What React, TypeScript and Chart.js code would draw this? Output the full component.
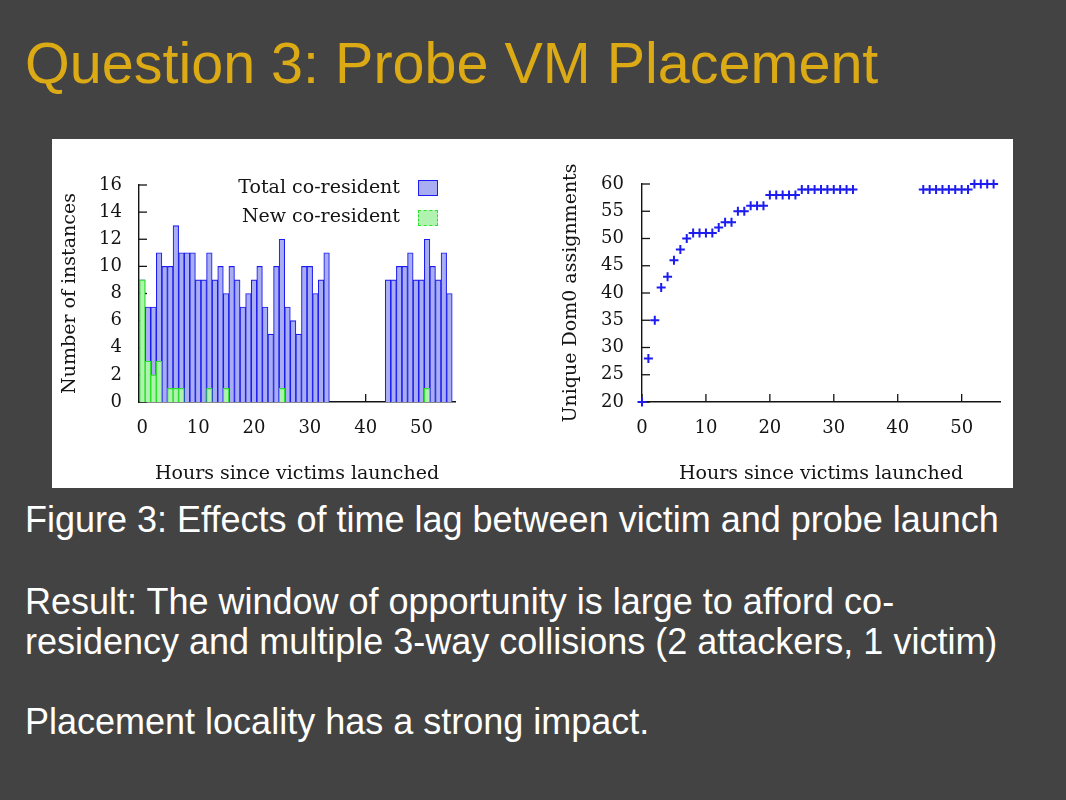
import React, { useEffect, useRef } from "react";
import { Chart, registerables } from "chart.js";

Chart.register(...registerables);

// ---------- data ----------
const coHours = [
  0, 1, 2, 3, 4, 5, 6, 7, 8, 9, 10, 11, 12, 13, 14, 15, 16, 17, 18, 19, 20, 21, 22, 23, 24, 25, 26, 27, 28, 29, 30, 31, 32, 33,
  44, 45, 46, 47, 48, 49, 50, 51, 52, 53, 54, 55,
];
const totalCoResident = [
  9, 7, 7, 11, 10, 10, 13, 11, 11, 11, 9, 9, 11, 9, 10, 8, 10, 9, 7, 8, 9, 10, 7, 5, 10, 12, 7, 6, 5, 10, 10, 8, 9, 11,
  9, 9, 10, 10, 11, 9, 9, 12, 10, 9, 11, 8,
];
const newHours = [0, 1, 2, 3, 5, 6, 7, 12, 15, 25, 51];
const newCoResident = [9, 3, 2, 3, 1, 1, 1, 1, 1, 1, 1];

const dom0Hours = [
  0, 1, 2, 3, 4, 5, 6, 7, 8, 9, 10, 11, 12, 13, 14, 15, 16, 17, 18, 19, 20, 21, 22, 23, 24, 25, 26, 27, 28, 29, 30, 31, 32, 33,
  44, 45, 46, 47, 48, 49, 50, 51, 52, 53, 54, 55,
];
const dom0Unique = [
  20, 28, 35, 41, 43, 46, 48, 50, 51, 51, 51, 51, 52, 53, 53, 55, 55, 56, 56, 56, 58, 58, 58, 58, 58, 59, 59, 59, 59, 59, 59, 59, 59, 59,
  59, 59, 59, 59, 59, 59, 59, 59, 60, 60, 60, 60,
];

const xTickValues = [0, 10, 20, 30, 40, 50];
const leftYTickValues = [0, 2, 4, 6, 8, 10, 12, 14, 16];
const rightYTickValues = [20, 25, 30, 35, 40, 45, 50, 55, 60];

const legendLabels = ["Total co-resident", "New co-resident"];
const xTitle = "Hours since victims launched";
const leftYTitle = "Number of instances";
const rightYTitle = "Unique Dom0 assignments";

// ---------- styles ----------
const BG = "#434343";
const GOLD = "#dcaa14";
const INK = "#141414";
const BLUE = "#1c1cf0";
const BLUE_FILL = "#a9aef2";
const GREEN = "#2de02d";
const GREEN_FILL = "#b0f2b0";
const SERIF = "'DejaVu Serif', serif";
const SANS = "'Liberation Sans', Arial, sans-serif";

const inwardTicks = {
  id: "inwardTicks",
  beforeDatasetsDraw(chart: any) {
    const { ctx, chartArea, scales } = chart;
    ctx.save();
    ctx.strokeStyle = INK;
    ctx.lineWidth = 1.3;
    const xs = scales.x;
    const ys = scales.y;
    ys.ticks.forEach((t: any) => {
      const py = ys.getPixelForValue(t.value);
      ctx.beginPath();
      ctx.moveTo(chartArea.left, py);
      ctx.lineTo(chartArea.left + 8, py);
      ctx.stroke();
    });
    xs.ticks.forEach((t: any) => {
      const px = xs.getPixelForValue(t.value);
      ctx.beginPath();
      ctx.moveTo(px, chartArea.bottom);
      ctx.lineTo(px, chartArea.bottom - 8);
      ctx.stroke();
    });
    ctx.restore();
  },
};

function axisCommon(tickValues: number[], min: number, max: number) {
  return {
    type: "linear" as const,
    min,
    max,
    afterBuildTicks: (s: any) => {
      s.ticks = tickValues.map((v) => ({ value: v }));
    },
    grid: { display: false, drawTicks: false },
    border: { display: true, color: INK, width: 1.4 },
  };
}

export default function App() {
  const leftRef = useRef<HTMLCanvasElement>(null);
  const rightRef = useRef<HTMLCanvasElement>(null);

  useEffect(() => {
    Chart.defaults.font.family = SERIF;
    Chart.defaults.color = INK;

    const left = new Chart(leftRef.current!, {
      type: "bar",
      data: {
        datasets: [
          {
            label: legendLabels[0],
            data: coHours.map((h, i) => ({ x: h, y: totalCoResident[i] })),
            backgroundColor: BLUE_FILL,
            borderColor: BLUE,
            borderWidth: 1.1,
            barPercentage: 1,
            categoryPercentage: 1,
            grouped: false,
            order: 2,
          } as any,
          {
            label: legendLabels[1],
            data: newHours.map((h, i) => ({ x: h, y: newCoResident[i] })),
            backgroundColor: GREEN_FILL,
            borderColor: GREEN,
            borderWidth: 1.1,
            barPercentage: 1,
            categoryPercentage: 1,
            grouped: false,
            order: 1,
          } as any,
        ],
      },
      options: {
        animation: false,
        responsive: true,
        maintainAspectRatio: false,
        events: [],
        layout: { padding: { top: 46, right: 45, left: 0, bottom: 0 } },
        plugins: { legend: { display: false }, tooltip: { enabled: false } },
        scales: {
          x: {
            ...axisCommon(xTickValues, -0.6, 56),
            offset: false,
            ticks: { padding: 16, font: { size: 18, family: SERIF }, color: INK, maxRotation: 0 },
            title: { display: true, text: xTitle, font: { size: 19, family: SERIF }, color: INK, padding: { top: 0, bottom: 3 } },
            afterFit: (s: any) => {
              s.height = 86;
            },
          } as any,
          y: {
            ...axisCommon(leftYTickValues, 0, 16),
            ticks: { padding: 17, font: { size: 18, family: SERIF }, color: INK },
            title: { display: true, text: leftYTitle, font: { size: 19, family: SERIF }, color: INK, padding: { top: 6.6, bottom: 0 } },
            afterFit: (s: any) => {
              s.width = 87;
            },
          } as any,
        },
      },
      plugins: [inwardTicks],
    });

    const right = new Chart(rightRef.current!, {
      type: "scatter",
      data: {
        datasets: [
          {
            label: rightYTitle,
            data: dom0Hours.map((h, i) => ({ x: h, y: dom0Unique[i] })),
            pointStyle: "cross",
            pointRadius: 4.5,
            pointBorderWidth: 2,
            borderColor: BLUE,
            backgroundColor: BLUE,
            clip: false,
          } as any,
        ],
      },
      options: {
        animation: false,
        responsive: true,
        maintainAspectRatio: false,
        events: [],
        layout: { padding: { top: 45, right: 13, left: 0, bottom: 0 } },
        plugins: { legend: { display: false }, tooltip: { enabled: false } },
        scales: {
          x: {
            ...axisCommon(xTickValues, 0, 56),
            ticks: { padding: 16, font: { size: 18, family: SERIF }, color: INK, maxRotation: 0 },
            title: { display: true, text: xTitle, font: { size: 19, family: SERIF }, color: INK, padding: { top: 0, bottom: 3 } },
            afterFit: (s: any) => {
              s.height = 86;
            },
          } as any,
          y: {
            ...axisCommon(rightYTickValues, 20, 60),
            ticks: { padding: 18, font: { size: 18, family: SERIF }, color: INK },
            title: { display: true, text: rightYTitle, font: { size: 19, family: SERIF }, color: INK, padding: { top: 9.6, bottom: 0 } },
            afterFit: (s: any) => {
              s.width = 92;
            },
          } as any,
        },
      },
      plugins: [inwardTicks],
    });

    return () => {
      left.destroy();
      right.destroy();
    };
  }, []);

  const textLine = (top: number, text: string) => (
    <div
      style={{
        position: "absolute",
        left: 25,
        top,
        fontFamily: SANS,
        fontSize: 36,
        lineHeight: "40px",
        color: "#ffffff",
        whiteSpace: "nowrap",
      }}
    >
      {text}
    </div>
  );

  const legendText = (top: number, text: string) => (
    <div
      style={{
        position: "absolute",
        left: 200,
        top,
        width: 200,
        textAlign: "right",
        fontFamily: SERIF,
        fontSize: 19,
        lineHeight: "22px",
        color: INK,
      }}
    >
      {text}
    </div>
  );

  return (
    <div style={{ position: "absolute", left: 0, top: 0, width: 1066, height: 800, background: BG, overflow: "hidden" }}>
      <div
        style={{
          position: "absolute",
          left: 25,
          top: 35,
          fontFamily: SANS,
          fontSize: 57.5,
          lineHeight: "57px",
          color: GOLD,
          whiteSpace: "nowrap",
        }}
      >
        Question 3: Probe VM Placement
      </div>

      <div style={{ position: "absolute", left: 52, top: 139, width: 961, height: 349, background: "#ffffff" }} />

      <div style={{ position: "absolute", left: 52, top: 139, width: 448, height: 349 }}>
        <canvas ref={leftRef} />
      </div>
      <div style={{ position: "absolute", left: 550, top: 139, width: 463, height: 349 }}>
        <canvas ref={rightRef} />
      </div>

      {/* legend of the left chart */}
      {legendText(175, legendLabels[0])}
      <div
        style={{
          position: "absolute",
          left: 418,
          top: 180,
          width: 18,
          height: 14,
          background: BLUE_FILL,
          border: `1.5px solid ${BLUE}`,
        }}
      />
      {legendText(204, legendLabels[1])}
      <div
        style={{
          position: "absolute",
          left: 418,
          top: 210,
          width: 18,
          height: 14,
          background: GREEN_FILL,
          border: `1.5px dashed ${GREEN}`,
        }}
      />

      {textLine(500, "Figure 3: Effects of time lag between victim and probe launch")}
      {textLine(582, "Result: The window of opportunity is large to afford co-")}
      {textLine(622, "residency and multiple 3-way collisions (2 attackers, 1 victim)")}
      {textLine(702, "Placement locality has a strong impact.")}
    </div>
  );
}
